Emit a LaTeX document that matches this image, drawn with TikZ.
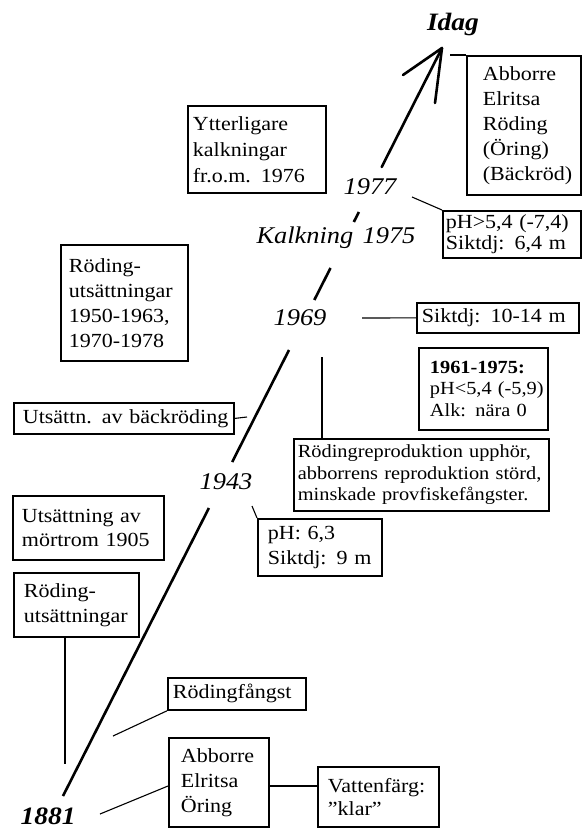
\documentclass[tikz,border=0pt]{standalone}
\usepackage{fontspec}
\setmainfont{Liberation Serif}[FakeStretch=1.1, WordSpace=1.4]
\newcommand\mainfs{\fontsize{20}{25}\selectfont}
\newcommand\smallfs{\fontsize{18.5}{21.5}\selectfont}
\newcommand\yearfs{\fontsize{24}{28}\selectfont\itshape}
\newcommand\boldyearfs{\fontsize{25}{30}\selectfont\bfseries\itshape}
% left indent of a box text, kept up to its last line
\newcommand\padtext[2]{\leftskip=#1\relax #2\par}
\tikzset{
  box/.style={draw, line width=1.8pt, anchor=north west, inner xsep=0pt,
    inner ysep=0pt, align=left, font=\mainfs},
  geom/.style n args={2}{minimum width=#1, text width=#1, minimum height=#2},
  conn/.style={line width=1.1pt},
  timeline/.style={line width=2.6pt},
  yearlbl/.style={font=\yearfs, inner sep=0pt},
  endlbl/.style={font=\boldyearfs, inner sep=0pt}
}
\begin{document}
\begin{tikzpicture}[x=1pt, y=-1pt]
\useasboundingbox (0,0) rectangle (581,829);

% ---- year labels on the time axis ----
\node[endlbl]  (idag)  at (453,24)  {Idag};
\node[yearlbl] (y1977) at (370,187) {1977};
\node[yearlbl] (kalk)  at (336,238) {Kalkning 1975};
\node[yearlbl] (y1969) at (300,318) {1969};
\node[yearlbl] (y1943) at (226,482) {1943};
\node[endlbl]  (y1881) at (48,816)  {1881};

% ---- time axis, broken at the labels ----
\coordinate (a0) at (63,796);   \coordinate (a1) at (208.9,508);
\coordinate (b0) at (232.2,462); \coordinate (b1) at (289,350);
\coordinate (c0) at (314.3,300); \coordinate (c1) at (330.5,268);
\coordinate (d0) at (353.8,222); \coordinate (d1) at (358.9,212);
\coordinate (e0) at (381.7,167); \coordinate (tip) at (442,48);
\coordinate (barbL) at (403,75); \coordinate (barbR) at (435,103);
\draw[timeline] (a0) -- (a1);
\draw[timeline] (b0) -- (b1);
\draw[timeline] (c0) -- (c1);
\draw[timeline] (d0) -- (d1);
\draw[timeline, line cap=round] (e0) -- (tip);
\draw[timeline, line cap=round, line join=round] (barbL) -- (tip) -- (barbR);

% ---- boxes ----
\node[box, geom={114}{139}] (fishnow) at (466,55)
  {\padtext{16pt}{Abborre\\Elritsa\\Röding\\(Öring)\\(Bäckröd)}};
\node[box, geom={138}{47}] (ph77) at (442,210)
  {\fontsize{20}{21.5}\selectfont\padtext{3pt}{pH>5,4 (-7,4)\\Siktdj: 6,4 m}};
\node[box, geom={138}{87}] (ytter) at (187,105)
  {\fontsize{20}{26}\selectfont\padtext{5pt}{Ytterligare\\kalkningar\\fr.o.m. 1976}};
\node[box, geom={127}{116}] (rodupp) at (60,244)
  {\padtext{8pt}{Röding-\\utsättningar\\1950-1963,\\1970-1978}};
\node[box, geom={220}{31}] (utsb) at (13,402)
  {\padtext{9pt}{Utsättn. av bäckröding}};
\node[box, geom={151}{64}] (mort) at (12,495)
  {\fontsize{20}{24}\selectfont\padtext{9pt}{Utsättning av\\mörtrom 1905}};
\node[box, geom={125}{64}] (rodlow) at (13,572)
  {\padtext{10pt}{Röding-\\utsättningar}};
\node[box, geom={138}{32}] (fangst) at (167,677)
  {\padtext{5pt}{Rödingfångst}};
\node[box, geom={100}{89}] (fishold) at (168,737)
  {\padtext{12pt}{Abborre\\Elritsa\\Öring}};
\node[box, geom={121}{60}] (vatten) at (317,766)
  {\fontsize{20}{23}\selectfont\padtext{10pt}{Vattenfärg:\\”klar”}};
\node[box, geom={162}{30}] (sikt69) at (416,302)
  {\padtext{5pt}{Siktdj: 10-14 m}};
\node[box, geom={129}{82}, font=\smallfs] (ph61) at (418,347)
  {\padtext{11pt}{\textbf{1961-1975:}\\pH<5,4 (-5,9)\\Alk: nära 0}};
\node[box, geom={255}{72}, font=\smallfs] (repro) at (293,438)
  {\padtext{4pt}{Rödingreproduktion upphör,\\abborrens reproduktion störd,\\minskade provfiskefångster.}};
\node[box, geom={124}{57}] (ph43) at (257,518)
  {\padtext{10pt}{pH: 6,3\\Siktdj: 9 m}};

% ---- connectors ----
\coordinate (kIdag) at (450,55);
\coordinate (k1977) at (412,197);
\coordinate (k1969) at (362,318);
\coordinate (k69v)  at (322,357);
\coordinate (k1943) at (252,506);
\coordinate (kbaeck) at (247,417);
\coordinate (krod)  at (65,764);
\coordinate (kfang) at (113,736);
\coordinate (k1881) at (100,814);
\draw[conn] (kIdag) -- (fishnow.north west);
\draw[conn] (k1977) -- (ph77.north west);
\draw[conn] (k1969) -- (sikt69.west);
\draw[conn] (k69v) -- (k69v |- repro.north);
\draw[conn] (k1943) -- (ph43.north west);
\draw[conn] (utsb.east) -- (kbaeck);
\draw[conn] (krod |- rodlow.south) -- (krod);
\draw[conn] (kfang) -- (fangst.south west);
\draw[conn] (k1881) -- (fishold.west |- 0,786);
\draw[conn] (fishold.east |- 0,786) -- (vatten.west |- 0,786);
\end{tikzpicture}
\end{document}
